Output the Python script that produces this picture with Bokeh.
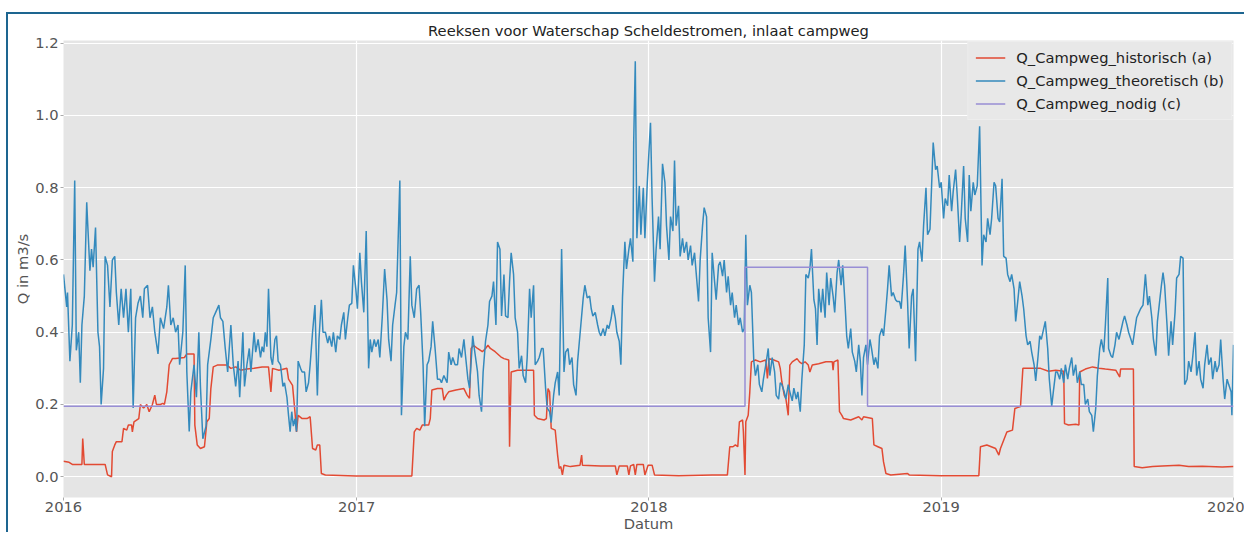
import pandas as pd
from bokeh.plotting import figure
from bokeh.models import FixedTicker, DatetimeTickFormatter, PrintfTickFormatter, Range1d
from bokeh.embed import file_html
from bokeh.resources import INLINE

START = pd.Timestamp("2016-01-01")
END = pd.Timestamp("2020-01-01")

# Q_Campweg_historisch (a): day offset from 2016-01-01, discharge in m3/s
hist_days = [0, 7, 11, 23, 24, 26, 52, 55, 60, 61, 64, 66, 73, 75, 79, 81, 85, 86, 88, 94, 96, 100, 104, 107, 111, 114, 116, 121, 124, 126, 129, 132, 136, 140, 151, 154, 163, 164, 167, 171, 176, 179, 182, 184, 187, 192, 204, 209, 215, 221, 229, 238,
             248, 256, 259, 261, 269, 279, 281, 286, 289, 291, 293, 298, 304, 308, 311, 315, 317, 320, 322, 327, 365, 435, 438, 441, 445, 448, 456, 458, 460, 467, 473, 475, 478, 481, 490,
             500, 504, 507, 509, 512, 517, 523, 527, 530, 533, 539, 546, 550, 556, 557, 559, 567, 587, 588, 592, 600, 603, 605, 607, 609, 614, 617, 619, 621, 623, 625, 633, 645, 647, 648, 671, 689, 691, 694, 704, 706, 708, 712, 714, 716, 724, 726,
             730, 735, 738, 768, 810, 829, 832, 836, 839, 842, 844, 848, 849, 851, 852, 855, 857, 859, 864, 870, 877, 879, 881, 887, 893, 895, 897, 900, 902, 905, 907, 910, 916, 919, 922, 926, 930, 932, 935, 943, 952, 960, 961, 962, 967, 969, 972,
             974, 983, 993, 997, 999, 1010, 1012, 1017, 1022, 1024, 1027, 1033, 1054, 1056, 1095, 1143, 1145, 1153, 1164, 1168, 1170, 1178, 1185, 1188, 1195, 1198, 1208, 1220,
             1230, 1239, 1249, 1250, 1255, 1264, 1268, 1269, 1276, 1285, 1293, 1301, 1314, 1319, 1320, 1330, 1336, 1337, 1347, 1360, 1372, 1393, 1405, 1422, 1447, 1461]
hist_q = [0.043, 0.04, 0.034, 0.034, 0.106, 0.034, 0.034, 0.005, 0.0, 0.07, 0.088, 0.097, 0.097, 0.134, 0.129, 0.143, 0.143, 0.124, 0.152, 0.161, 0.20, 0.19, 0.20, 0.18, 0.20, 0.226, 0.20, 0.20, 0.203, 0.20, 0.235, 0.31, 0.327, 0.327, 0.33, 0.34, 0.34, 0.143, 0.088, 0.078, 0.083, 0.152, 0.161, 0.244, 0.304, 0.309, 0.309, 0.30, 0.304, 0.295, 0.298, 0.30,
          0.304, 0.304, 0.235, 0.30, 0.295, 0.30, 0.27, 0.253, 0.18, 0.124, 0.17, 0.161, 0.161, 0.166, 0.078, 0.074, 0.088, 0.088, 0.009, 0.005, 0.002, 0.002, 0.124, 0.134, 0.129, 0.143, 0.143, 0.161, 0.24, 0.244, 0.244, 0.212, 0.226, 0.235, 0.24,
          0.244, 0.226, 0.217, 0.355, 0.364, 0.355, 0.346, 0.355, 0.364, 0.355, 0.346, 0.332, 0.327, 0.323, 0.083, 0.29, 0.295, 0.295, 0.17, 0.161, 0.157, 0.161, 0.244, 0.235, 0.134, 0.129, 0.06, 0.023, 0.028, 0.005, 0.032, 0.028, 0.032, 0.06, 0.032, 0.03, 0.03, 0.005, 0.03, 0.03, 0.005, 0.03, 0.034, 0.005, 0.034, 0.034, 0.005,
          0.032, 0.032, 0.005, 0.003, 0.005, 0.005, 0.083, 0.083, 0.088, 0.083, 0.152, 0.157, 0.124, 0.005, 0.152, 0.17, 0.235, 0.318, 0.323, 0.318, 0.323, 0.272, 0.327, 0.323, 0.318, 0.30, 0.263, 0.226, 0.217, 0.17, 0.309, 0.318, 0.327, 0.318, 0.313, 0.318, 0.309, 0.29, 0.309, 0.313, 0.318, 0.318, 0.295, 0.318, 0.323, 0.18, 0.17,
          0.161, 0.157, 0.166, 0.157, 0.166, 0.161, 0.088, 0.083, 0.078, 0.041, 0.009, 0.005, 0.009, 0.005, 0.003, 0.003, 0.083, 0.088, 0.078, 0.06, 0.078, 0.124, 0.129, 0.189, 0.194, 0.30, 0.30, 0.30,
          0.292, 0.295, 0.292, 0.147, 0.143, 0.145, 0.143, 0.29, 0.298, 0.304, 0.30, 0.298, 0.295, 0.276, 0.298, 0.298, 0.298, 0.028, 0.025, 0.028, 0.03, 0.032, 0.028, 0.029, 0.027, 0.028]

# Q_Campweg_theoretisch (b)
theo_days = [0, 4, 5, 8, 11, 14, 16, 19, 21, 23, 26, 29, 30, 33, 35, 37, 40, 43, 45, 47, 50, 52, 55, 58, 61, 64, 66, 69, 72, 75, 78, 81, 84, 87, 90, 93, 96, 99, 101, 105, 108, 111, 114, 118, 121, 125, 129, 131, 134, 137, 140, 143, 145, 149, 152, 154, 157, 159, 163, 166, 169, 171, 174, 178, 180, 184, 187, 190, 194, 196, 199, 202, 205, 209, 212, 215, 218, 220, 224, 226, 229, 232, 234, 238,
             240, 243, 246, 248, 250, 252, 254, 256, 259, 261, 264, 266, 268, 271, 274, 276, 279, 281, 283, 285, 287, 289, 291, 293, 296, 298, 301, 303, 306, 308, 311, 314, 317, 319, 322, 324, 327, 330, 332, 335, 337, 340, 342, 345, 347, 350, 352, 355, 357, 360, 362, 365, 367, 370, 372, 375, 378, 381, 383, 385, 388, 390, 393, 395, 398, 401, 404, 406, 409, 411, 414, 416, 420, 422, 425, 427, 430, 433, 435, 438, 441, 444, 446, 449, 451, 454, 456, 459, 461, 464, 467, 470, 472, 475, 479, 481, 484, 486, 489,
             492, 494, 497, 500, 502, 505, 507, 511, 513, 517, 519, 522, 524, 527, 530, 532, 535, 537, 540, 542, 545, 547, 550, 552, 555, 557, 559, 562, 564, 567, 569, 572, 574, 577, 579, 582, 584, 587, 589, 592, 594, 597, 599, 602, 604, 607, 609, 612, 614, 617, 619, 622, 625, 627, 630, 632, 635, 637, 640, 642, 646, 649, 651, 654, 657, 659, 661, 664, 667, 669, 671, 674, 676, 679, 681, 684, 686, 689, 691, 694, 696, 698, 701, 703, 706, 708, 711, 712, 714, 716, 719, 721, 724, 726, 729,
             733, 735, 738, 740, 743, 745, 748, 751, 753, 756, 758, 761, 763, 765, 768, 770, 773, 775, 778, 780, 783, 785, 788, 790, 793, 795, 798, 800, 803, 805, 808, 810, 813, 815, 818, 820, 823, 825, 828, 830, 833, 835, 838, 840, 843, 845, 848, 850, 852, 854, 857, 859, 862, 864, 867, 869, 872, 874, 877, 880, 882, 885, 888, 890, 893, 895, 897, 900, 902, 905, 907, 910, 912, 915, 917, 920, 922, 925, 927, 930, 932, 934, 937, 939, 941, 943, 946, 948, 951, 953, 956, 958, 961, 963, 966, 968, 971, 973, 976,
             978, 980, 983, 985, 988, 990, 993, 995, 997, 999, 1002, 1004, 1007, 1009, 1012, 1014, 1017, 1019, 1022, 1024, 1027, 1029, 1031, 1034, 1036, 1039, 1041, 1044, 1046, 1049, 1051, 1054, 1056, 1059, 1061, 1064, 1067, 1069, 1072, 1074, 1077, 1079, 1082, 1084, 1086, 1089, 1091, 1094, 1096, 1099, 1101, 1104, 1106, 1109, 1111, 1114, 1116, 1119, 1121, 1124, 1126, 1129, 1131, 1133, 1136, 1138, 1141, 1144, 1147, 1149, 1152, 1154, 1157, 1159, 1162, 1164, 1167, 1169, 1172, 1174, 1177, 1179, 1182, 1184, 1187, 1189, 1192, 1194, 1197, 1199, 1202, 1204, 1207, 1209, 1212, 1214, 1217, 1219,
             1221, 1224, 1226, 1229, 1231, 1234, 1236, 1239, 1241, 1244, 1246, 1249, 1251, 1254, 1256, 1259, 1261, 1264, 1266, 1269, 1271, 1274, 1276, 1279, 1281, 1284, 1286, 1289, 1291, 1294, 1296, 1299, 1301, 1304, 1305, 1308, 1310, 1313, 1315, 1318, 1320, 1323, 1325, 1328, 1330, 1333, 1335, 1338, 1340, 1343, 1345, 1348, 1351, 1354, 1356, 1359, 1361, 1364, 1366, 1369, 1371, 1373, 1375, 1378, 1380, 1383, 1385, 1388, 1390, 1393, 1395, 1398, 1400, 1403, 1405, 1408, 1410, 1413, 1415, 1418, 1420, 1423, 1425, 1428, 1430, 1433, 1435, 1438, 1440, 1443, 1445, 1448, 1450, 1453, 1455, 1458, 1459, 1461]
theo_q = [0.56, 0.47, 0.51, 0.32, 0.42, 0.82, 0.35, 0.40, 0.26, 0.42, 0.50, 0.76, 0.71, 0.57, 0.63, 0.58, 0.69, 0.40, 0.36, 0.20, 0.30, 0.61, 0.585, 0.47, 0.60, 0.61, 0.51, 0.42, 0.52, 0.44, 0.52, 0.40, 0.52, 0.19, 0.44, 0.48, 0.50, 0.44, 0.52, 0.53, 0.44, 0.47, 0.40, 0.34, 0.44, 0.41, 0.47, 0.53, 0.42, 0.44, 0.40, 0.42, 0.31, 0.40, 0.585, 0.29, 0.125, 0.235, 0.31, 0.22, 0.40, 0.25, 0.105, 0.14, 0.31, 0.38, 0.44, 0.455, 0.475, 0.44, 0.43, 0.355, 0.29, 0.42, 0.31, 0.25, 0.32, 0.22, 0.40, 0.25, 0.31, 0.355, 0.29, 0.40,
          0.345, 0.38, 0.33, 0.36, 0.345, 0.40, 0.36, 0.52, 0.33, 0.31, 0.38, 0.39, 0.32, 0.31, 0.25, 0.26, 0.22, 0.17, 0.125, 0.18, 0.14, 0.16, 0.125, 0.32, 0.30, 0.29, 0.29, 0.235, 0.26, 0.31, 0.40, 0.475, 0.225, 0.38, 0.49, 0.40, 0.40, 0.37, 0.39, 0.36, 0.40, 0.345, 0.39, 0.38, 0.42, 0.455, 0.38, 0.44, 0.475, 0.48, 0.585, 0.52, 0.465, 0.62, 0.54, 0.455, 0.68, 0.30, 0.38, 0.345, 0.38, 0.36, 0.38, 0.33, 0.44, 0.575, 0.49, 0.38, 0.32, 0.42, 0.475, 0.51, 0.82, 0.17, 0.36, 0.40, 0.38, 0.61, 0.475, 0.44, 0.52, 0.53, 0.455, 0.31, 0.14, 0.31, 0.32, 0.36, 0.43, 0.355, 0.27, 0.27, 0.26, 0.28, 0.26, 0.345, 0.31, 0.33, 0.31,
          0.31, 0.355, 0.33, 0.38, 0.335, 0.27, 0.245, 0.39, 0.355, 0.29, 0.225, 0.18, 0.29, 0.375, 0.42, 0.485, 0.50, 0.54, 0.42, 0.65, 0.63, 0.445, 0.56, 0.445, 0.44, 0.54, 0.62, 0.56, 0.44, 0.40, 0.30, 0.335, 0.28, 0.26, 0.33, 0.52, 0.44, 0.53, 0.31, 0.32, 0.33, 0.355, 0.355, 0.245, 0.19, 0.18, 0.15, 0.225, 0.26, 0.29, 0.225, 0.63, 0.29, 0.345, 0.355, 0.31, 0.33, 0.255, 0.225, 0.32, 0.42, 0.495, 0.53, 0.495, 0.50, 0.465, 0.445, 0.455, 0.42, 0.40, 0.39, 0.41, 0.39, 0.42, 0.41, 0.44, 0.475, 0.44, 0.40, 0.375, 0.31, 0.495, 0.65, 0.575, 0.63, 0.66, 0.595, 0.925, 1.15, 0.66, 0.805, 0.67, 0.80, 0.66, 0.815,
          0.98, 0.77, 0.54, 0.63, 0.72, 0.63, 0.866, 0.815, 0.695, 0.60, 0.72, 0.68, 0.875, 0.695, 0.75, 0.61, 0.66, 0.62, 0.65, 0.60, 0.64, 0.585, 0.62, 0.565, 0.485, 0.60, 0.695, 0.745, 0.72, 0.44, 0.345, 0.62, 0.54, 0.49, 0.585, 0.595, 0.555, 0.60, 0.51, 0.555, 0.475, 0.51, 0.44, 0.475, 0.42, 0.44, 0.40, 0.41, 0.67, 0.475, 0.53, 0.51, 0.32, 0.28, 0.31, 0.255, 0.235, 0.27, 0.31, 0.355, 0.28, 0.33, 0.29, 0.225, 0.215, 0.26, 0.255, 0.235, 0.215, 0.255, 0.235, 0.21, 0.245, 0.215, 0.235, 0.18, 0.27, 0.365, 0.56, 0.55, 0.575, 0.63, 0.49, 0.465, 0.365, 0.52, 0.455, 0.52, 0.44, 0.565, 0.475, 0.55, 0.50, 0.455, 0.565, 0.60, 0.53, 0.585, 0.475,
          0.39, 0.355, 0.41, 0.345, 0.32, 0.29, 0.365, 0.32, 0.225, 0.33, 0.365, 0.31, 0.38, 0.355, 0.31, 0.33, 0.30, 0.39, 0.41, 0.39, 0.465, 0.52, 0.585, 0.50, 0.51, 0.49, 0.485, 0.485, 0.465, 0.56, 0.64, 0.485, 0.355, 0.50, 0.52, 0.32, 0.63, 0.65, 0.595, 0.695, 0.80, 0.67, 0.685, 0.805, 0.925, 0.85, 0.86, 0.80, 0.815, 0.715, 0.77, 0.75, 0.835, 0.735, 0.79, 0.85, 0.78, 0.65, 0.725, 0.86, 0.715, 0.65, 0.835, 0.735, 0.815, 0.78, 0.805, 0.97, 0.585, 0.67, 0.65, 0.715, 0.67, 0.715, 0.815, 0.805, 0.715, 0.705, 0.825, 0.61, 0.605, 0.56, 0.54, 0.56, 0.52, 0.43, 0.495, 0.54, 0.50, 0.465, 0.39, 0.365, 0.375, 0.345, 0.31, 0.265, 0.335, 0.39,
          0.38, 0.41, 0.43, 0.355, 0.27, 0.195, 0.235, 0.29, 0.29, 0.27, 0.30, 0.26, 0.31, 0.27, 0.30, 0.33, 0.28, 0.31, 0.26, 0.29, 0.255, 0.255, 0.20, 0.215, 0.18, 0.17, 0.125, 0.19, 0.28, 0.355, 0.38, 0.345, 0.42, 0.55, 0.355, 0.335, 0.33, 0.365, 0.40, 0.38, 0.40, 0.43, 0.445, 0.42, 0.40, 0.38, 0.365, 0.41, 0.44, 0.455, 0.465, 0.475, 0.56, 0.475, 0.50, 0.44, 0.38, 0.335, 0.43, 0.49, 0.53, 0.565, 0.53, 0.42, 0.335, 0.43, 0.365, 0.455, 0.55, 0.56, 0.61, 0.605, 0.255, 0.27, 0.32, 0.29, 0.33, 0.40, 0.28, 0.32, 0.27, 0.245, 0.31, 0.365, 0.31, 0.33, 0.27, 0.32, 0.29, 0.31, 0.38, 0.27, 0.215, 0.27, 0.255, 0.235, 0.17, 0.365]

# Q_Campweg_nodig (c): stepwise requirement
nodig_days = [0, 851, 1004, 1461]
nodig_q = [0.195, 0.58, 0.195, 0.195]

year_ticks = ["2016-01-01", "2017-01-01", "2018-01-01", "2019-01-01", "2020-01-01"]
q_ticks = [0.0, 0.2, 0.4, 0.6, 0.8, 1.0, 1.2]

RED, BLUE, PURPLE = "#E24A33", "#348ABD", "#988ED5"
FONT = "DejaVu Sans"
FS = "14.7px"


def to_dates(days):
    return START + pd.to_timedelta(days, unit="D")


p = figure(width=1238, height=520, x_axis_type="datetime",
           output_backend="svg", toolbar_location=None,
           x_range=Range1d(START, END), y_range=Range1d(-0.0575, 1.2075),
           min_border_left=55, min_border_right=13,
           min_border_top=26, min_border_bottom=37)
p.styles = {"margin-left": "6px", "margin-top": "12px",
            "border-left": "2px solid #1d6590", "border-top": "2px solid #1d6590"}

p.background_fill_color = "#E5E5E5"
p.border_fill_color = "white"
p.outline_line_color = None

p.title.text = "Reeksen voor Waterschap Scheldestromen, inlaat campweg"
p.title.align = "center"
p.title.text_font = FONT
p.title.text_font_size = FS
p.title.text_font_style = "normal"
p.title.text_color = "#222222"
p.title.text_line_height = 1.0
p.title.standoff = 4

p.line(to_dates(hist_days), hist_q, color=RED, line_width=1.5,
       legend_label="Q_Campweg_historisch (a)")
p.line(to_dates(theo_days), theo_q, color=BLUE, line_width=1.5,
       legend_label="Q_Campweg_theoretisch (b)")
p.step(to_dates(nodig_days), nodig_q, mode="after", color=PURPLE, line_width=1.5,
       legend_label="Q_Campweg_nodig (c)")

tick_ms = [pd.Timestamp(t).value // 10**6 for t in year_ticks]
p.xaxis.ticker = FixedTicker(ticks=tick_ms)
p.xaxis.formatter = DatetimeTickFormatter(years="%Y", months="%Y", days="%Y",
                                          hours="%Y", minutes="%Y", seconds="%Y")
p.yaxis.ticker = FixedTicker(ticks=q_ticks)
p.yaxis.formatter = PrintfTickFormatter(format="%.1f")

p.xaxis.axis_label = "Datum"
p.yaxis.axis_label = "Q in m3/s"
for ax in (p.xaxis, p.yaxis):
    ax.axis_line_color = None
    ax.major_tick_line_color = "#aaaaaa"
    ax.major_tick_out = 3
    ax.major_tick_in = 0
    ax.minor_tick_line_color = None
    ax.major_label_text_font = FONT
    ax.major_label_text_font_size = FS
    ax.major_label_text_color = "#555555"
    ax.major_label_standoff = 2
    ax.axis_label_text_font = FONT
    ax.axis_label_text_font_size = FS
    ax.axis_label_text_font_style = "normal"
    ax.axis_label_text_color = "#555555"
    ax.axis_label_standoff = 1
p.xaxis.major_label_standoff = 1
p.xaxis.axis_label_standoff = 0

p.grid.grid_line_color = "white"
p.grid.grid_line_width = 1.2

leg = p.legend[0]
leg.location = "top_right"
leg.margin = 1
leg.padding = 7
leg.spacing = 6
leg.glyph_width = 30
leg.glyph_height = 17
leg.label_height = 17
leg.label_standoff = 11
leg.label_text_font = FONT
leg.label_text_font_size = FS
leg.label_text_color = "#222222"
leg.background_fill_color = "#E8E8E8"
leg.background_fill_alpha = 1.0
leg.border_line_color = "#F2F2F2"

open("out.html", "w").write(file_html(p, INLINE))
